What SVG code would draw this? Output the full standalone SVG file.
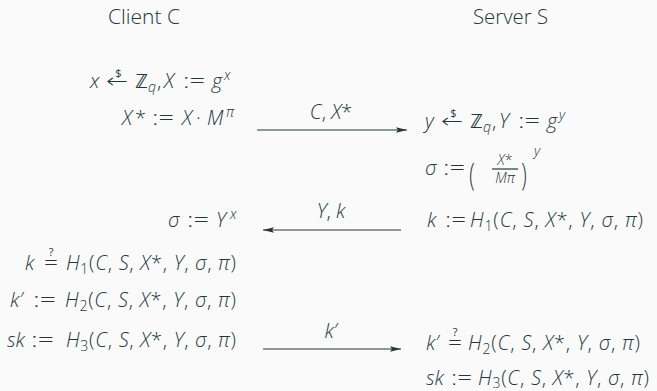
<svg xmlns="http://www.w3.org/2000/svg" width="657" height="391" viewBox="0 0 657 391">
<style>
text{font-family:"Open Sans","Noto Sans","DejaVu Sans",sans-serif;font-weight:300;fill:#23373b;font-size:20px}
.i{font-style:italic}
.s{font-size:14px}
.t{font-size:11px;font-weight:400}
.c{text-anchor:middle}
.ln{stroke:#23373b;stroke-width:1.2;fill:none}
</style>
<defs>
<marker id="ah" markerWidth="12" markerHeight="8" refX="11" refY="4" orient="auto" markerUnits="userSpaceOnUse">
<path d="M0,1.3 L11,4 L0,6.7 L2,4 Z" fill="#23373b"/>
</marker>
</defs>
<rect width="657" height="391" fill="#fafafa"/>
<g id="client-title"><text x="108" y="24" textLength="72" lengthAdjust="spacingAndGlyphs">Client C</text></g>
<g id="server-title"><text x="473" y="24" textLength="75" lengthAdjust="spacingAndGlyphs">Server S</text></g>
<g id="client">
<text y="88"><tspan x="90" class="i">x</tspan></text>
<text x="106" y="88" textLength="22" lengthAdjust="spacingAndGlyphs">←</text>
<text x="118.5" y="77" class="t c">$</text>
<text y="88"><tspan x="135">ℤ</tspan><tspan x="148" dy="4" class="s i">q</tspan><tspan x="157" dy="-4">,</tspan><tspan x="164" class="i">X</tspan></text>
<text x="183" y="88" textLength="22" lengthAdjust="spacingAndGlyphs">:=</text>
<text y="88"><tspan x="212" class="i">g</tspan><tspan x="224" dy="-8" class="s i">x</tspan></text>

<text y="125"><tspan x="122" class="i">X</tspan><tspan x="135">*</tspan></text>
<text x="152" y="125" textLength="22" lengthAdjust="spacingAndGlyphs">:=</text>
<text y="125"><tspan x="182" class="i">X</tspan><tspan x="196">·</tspan><tspan x="207" class="i">M</tspan><tspan x="226" dy="-8" class="s i">π</tspan></text>

<text y="227"><tspan x="168" class="i">σ</tspan></text>
<text x="187" y="227" textLength="22" lengthAdjust="spacingAndGlyphs">:=</text>
<text y="227"><tspan x="216" class="i">Y</tspan><tspan x="230" dy="-8" class="s i">x</tspan></text>

<text x="25" y="270" class="i">k</text>
<text x="44" y="270" textLength="14" lengthAdjust="spacingAndGlyphs">=</text>
<text x="51" y="256" class="t c">?</text>
<text x="66" y="270" textLength="170" lengthAdjust="spacing"><tspan class="i">H</tspan><tspan class="s" dy="4">1</tspan><tspan dy="-4">(</tspan><tspan class="i">C</tspan>, <tspan class="i">S</tspan>, <tspan class="i">X</tspan>*, <tspan class="i">Y</tspan>, <tspan class="i">σ</tspan>, <tspan class="i">π</tspan>)</text>

<text x="10" y="307" class="i">k′</text>
<text x="33" y="307" textLength="23" lengthAdjust="spacingAndGlyphs">:=</text>
<text x="65" y="307" textLength="171" lengthAdjust="spacing"><tspan class="i">H</tspan><tspan class="s" dy="4">2</tspan><tspan dy="-4">(</tspan><tspan class="i">C</tspan>, <tspan class="i">S</tspan>, <tspan class="i">X</tspan>*, <tspan class="i">Y</tspan>, <tspan class="i">σ</tspan>, <tspan class="i">π</tspan>)</text>

<text x="7" y="347" class="i">sk</text>
<text x="31" y="347" textLength="23" lengthAdjust="spacingAndGlyphs">:=</text>
<text x="66" y="347" textLength="170" lengthAdjust="spacing"><tspan class="i">H</tspan><tspan class="s" dy="4">3</tspan><tspan dy="-4">(</tspan><tspan class="i">C</tspan>, <tspan class="i">S</tspan>, <tspan class="i">X</tspan>*, <tspan class="i">Y</tspan>, <tspan class="i">σ</tspan>, <tspan class="i">π</tspan>)</text>
</g>
<g id="server">
<text y="128"><tspan x="425" class="i">y</tspan></text>
<text x="441" y="128" textLength="22" lengthAdjust="spacingAndGlyphs">←</text>
<text x="453.5" y="117" class="t c">$</text>
<text y="128"><tspan x="470">ℤ</tspan><tspan x="483" dy="4" class="s i">q</tspan><tspan x="492" dy="-4">,</tspan><tspan x="499" class="i">Y</tspan></text>
<text x="518" y="128" textLength="22" lengthAdjust="spacingAndGlyphs">:=</text>
<text y="128"><tspan x="547" class="i">g</tspan><tspan x="559" dy="-8" class="s i">y</tspan></text>

<text x="425" y="175" class="i">σ</text>
<text x="443" y="175" textLength="22" lengthAdjust="spacingAndGlyphs">:=</text>
<text x="472" y="181" class="c" transform="translate(472 175) scale(1 1.6) translate(-472 -175)">(</text>
<text x="505" y="165" class="s c"><tspan class="i">X</tspan>*</text>
<line x1="492" y1="169" x2="518" y2="169" class="ln" stroke-width="0.8"/>
<text x="505" y="183" class="s c"><tspan class="i">M</tspan><tspan class="i">π</tspan></text>
<text x="524" y="181" class="c" transform="translate(524 175) scale(1 1.6) translate(-524 -175)">)</text>
<text x="534" y="156" class="s i">y</text>

<text x="427" y="227" class="i">k</text>
<text x="445" y="227" textLength="21" lengthAdjust="spacingAndGlyphs">:=</text>
<text x="470" y="227" textLength="173" lengthAdjust="spacing"><tspan class="i">H</tspan><tspan class="s" dy="4">1</tspan><tspan dy="-4">(</tspan><tspan class="i">C</tspan>, <tspan class="i">S</tspan>, <tspan class="i">X</tspan>*, <tspan class="i">Y</tspan>, <tspan class="i">σ</tspan>, <tspan class="i">π</tspan>)</text>

<text x="426" y="350" class="i">k′</text>
<text x="448" y="350" textLength="14" lengthAdjust="spacingAndGlyphs">=</text>
<text x="455" y="336" class="t c">?</text>
<text x="468" y="350" textLength="172" lengthAdjust="spacing"><tspan class="i">H</tspan><tspan class="s" dy="4">2</tspan><tspan dy="-4">(</tspan><tspan class="i">C</tspan>, <tspan class="i">S</tspan>, <tspan class="i">X</tspan>*, <tspan class="i">Y</tspan>, <tspan class="i">σ</tspan>, <tspan class="i">π</tspan>)</text>

<text x="426" y="385" class="i">sk</text>
<text x="451" y="385" textLength="21" lengthAdjust="spacingAndGlyphs">:=</text>
<text x="478" y="385" textLength="171" lengthAdjust="spacing"><tspan class="i">H</tspan><tspan class="s" dy="3">3</tspan><tspan dy="-3">(</tspan><tspan class="i">C</tspan>, <tspan class="i">S</tspan>, <tspan class="i">X</tspan>*, <tspan class="i">Y</tspan>, <tspan class="i">σ</tspan>, <tspan class="i">π</tspan>)</text>
</g>
<g id="connectors">
<line x1="257" y1="130" x2="407" y2="130" class="ln" marker-end="url(#ah)"/>
<text x="331" y="119" class="c"><tspan class="i">C</tspan>, <tspan class="i">X</tspan>*</text>
<line x1="401" y1="230" x2="263" y2="230" class="ln" marker-end="url(#ah)"/>
<text x="331" y="218" class="c"><tspan class="i">Y</tspan>, <tspan class="i">k</tspan></text>
<line x1="263" y1="349" x2="401" y2="349" class="ln" marker-end="url(#ah)"/>
<text x="331" y="338" class="c"><tspan class="i">k′</tspan></text>
</g>
</svg>
